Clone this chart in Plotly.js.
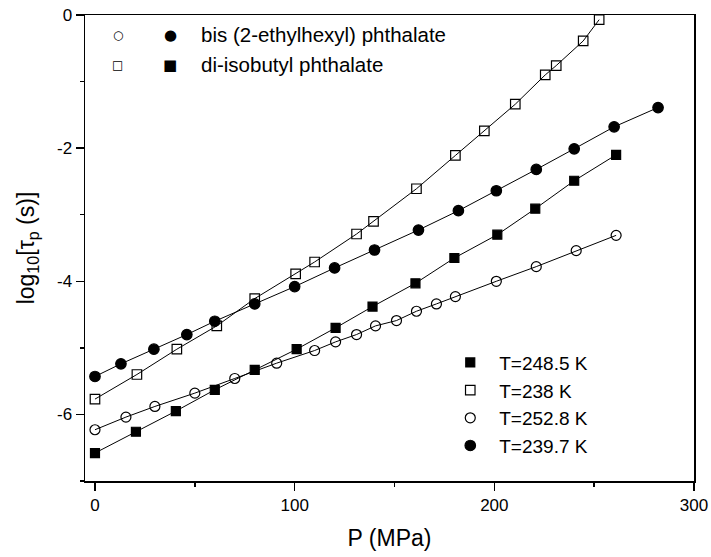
<!DOCTYPE html>
<html>
<head>
<meta charset="utf-8">
<script src="https://cdn.plot.ly/plotly-3.0.1.min.js"></script>
<style>html,body{margin:0;padding:0;background:#fff;}#chart{width:711px;height:557px;}</style>
</head>
<body>
<div id="chart"></div>
<script>
// bis (2-ethylhexyl) phthalate, T=239.7 K (filled circles)
const pFilledCircle = [0, 13, 29.5, 46, 60, 80, 100, 120, 140, 162, 182, 201, 221, 240, 260, 282];
const logFilledCircle = [-5.43, -5.24, -5.02, -4.80, -4.60, -4.34, -4.08, -3.80, -3.53, -3.23, -2.94, -2.64, -2.32, -2.01, -1.68, -1.39];

// bis (2-ethylhexyl) phthalate, T=252.8 K (open circles)
const pOpenCircle = [0, 15.5, 30, 50, 70, 91, 110, 120.5, 131, 140.5, 151, 161, 171, 180.5, 201, 221, 241, 261];
const logOpenCircle = [-6.23, -6.04, -5.88, -5.68, -5.46, -5.23, -5.04, -4.91, -4.80, -4.67, -4.59, -4.45, -4.34, -4.23, -4.00, -3.78, -3.54, -3.31];

// di-isobutyl phthalate, T=238 K (open squares)
const pOpenSquare = [0, 21, 41, 61, 80, 100.5, 110, 131, 139.5, 161, 180.5, 195, 210.5, 225.5, 231, 244.5, 252.5];
const logOpenSquare = [-5.77, -5.40, -5.02, -4.67, -4.26, -3.89, -3.71, -3.29, -3.10, -2.61, -2.11, -1.74, -1.34, -0.90, -0.76, -0.39, -0.07];

// di-isobutyl phthalate, T=248.5 K (filled squares)
const pFilledSquare = [0, 20.5, 40.5, 60, 80, 101, 120.5, 139, 160.5, 180, 201.5, 220.5, 240, 261];
const logFilledSquare = [-6.58, -6.26, -5.95, -5.63, -5.33, -5.02, -4.70, -4.38, -4.03, -3.65, -3.30, -2.91, -2.49, -2.10];

// Legend labels (order as in the reference legend)
const seriesNames = ['T=248.5 K', 'T=238 K', 'T=252.8 K', 'T=239.7 K'];
const compoundNames = ['bis (2-ethylhexyl) phthalate', 'di-isobutyl phthalate'];

// Tick labels
const yTickVals = [0, -2, -4, -6];
const yTickText = ['0', '-2', '-4', '-6'];
const xTickVals = [0, 100, 200, 300];
const xTickText = ['0', '100', '200', '300'];

const fontFam = 'Liberation Sans, Arial, Helvetica, sans-serif';

const series = [
  {x: pFilledSquare, y: logFilledSquare, symbol: 'square', size: 9, name: seriesNames[0]},
  {x: pOpenSquare, y: logOpenSquare, symbol: 'square-open', size: 9.5, name: seriesNames[1]},
  {x: pOpenCircle, y: logOpenCircle, symbol: 'circle-open', size: 10, name: seriesNames[2]},
  {x: pFilledCircle, y: logFilledCircle, symbol: 'circle', size: 10.5, name: seriesNames[3]}
];

const traces = [];
series.forEach(s => {
  traces.push({x: s.x, y: s.y, mode: 'lines', type: 'scatter', showlegend: false,
    line: {color: '#000', width: 1}, hoverinfo: 'skip'});
});
series.forEach(s => {
  traces.push({x: s.x, y: s.y, mode: 'markers', type: 'scatter', name: s.name,
    marker: {symbol: s.symbol, size: s.size, color: '#000', line: {color: '#000', width: 1.2}}});
});

const openSymFont = {family: 'DejaVu Sans', size: 12, color: '#000'};
const fillSymFont = {family: 'DejaVu Sans', size: 15, color: '#000'};
const txtFont = {family: fontFam, size: 20.5, color: '#000'};
const annotations = [
  {xref: 'paper', yref: 'paper', x: 0.0537, y: 0.958, text: '\u25CB', showarrow: false, font: openSymFont, xanchor: 'center', yanchor: 'middle'},
  {xref: 'paper', yref: 'paper', x: 0.1396, y: 0.958, text: '\u25CF', showarrow: false, font: fillSymFont, xanchor: 'center', yanchor: 'middle'},
  {xref: 'paper', yref: 'paper', x: 0.187, y: 0.958, text: compoundNames[0], showarrow: false, font: txtFont, xanchor: 'left', yanchor: 'middle'},
  {xref: 'paper', yref: 'paper', x: 0.0537, y: 0.8937, text: '\u25A1', showarrow: false, font: openSymFont, xanchor: 'center', yanchor: 'middle'},
  {xref: 'paper', yref: 'paper', x: 0.1396, y: 0.8937, text: '\u25A0', showarrow: false, font: fillSymFont, xanchor: 'center', yanchor: 'middle'},
  {xref: 'paper', yref: 'paper', x: 0.187, y: 0.8937, text: compoundNames[1], showarrow: false, font: txtFont, xanchor: 'left', yanchor: 'middle'}
];

const layout = {
  width: 711, height: 557,
  margin: {l: 85, r: 17, t: 15, b: 76},
  paper_bgcolor: '#fff', plot_bgcolor: '#fff',
  font: {family: fontFam, size: 17, color: '#000'},
  showlegend: true,
  legend: {x: 0.585, y: 0.295, xanchor: 'left', yanchor: 'top', bgcolor: 'rgba(0,0,0,0)',
    font: {family: fontFam, size: 19, color: '#000'}, itemwidth: 48, tracegroupgap: 0},
  xaxis: {
    range: [-5, 300], tickmode: 'array', tickvals: xTickVals, ticktext: xTickText,
    ticks: 'outside', ticklen: 8, tickwidth: 1.5, tickcolor: '#000',
    minor: {tickmode: 'linear', tick0: 0, dtick: 50, ticks: 'outside', ticklen: 4, tickwidth: 1.5, tickcolor: '#000'},
    showline: true, linecolor: '#000', linewidth: 1.5, mirror: true,
    showgrid: false, zeroline: false,
    tickfont: {family: fontFam, size: 17, color: '#000'},
    title: {text: 'P (MPa)', font: {family: fontFam, size: 23, color: '#000'}, standoff: 16}
  },
  yaxis: {
    range: [-7, 0], tickmode: 'array', tickvals: yTickVals, ticktext: yTickText,
    ticks: 'outside', ticklen: 8, tickwidth: 1.5, tickcolor: '#000',
    minor: {tickmode: 'linear', tick0: 0, dtick: 1, ticks: 'outside', ticklen: 4, tickwidth: 1.5, tickcolor: '#000'},
    showline: true, linecolor: '#000', linewidth: 1.5, mirror: true,
    showgrid: false, zeroline: false,
    tickfont: {family: fontFam, size: 17, color: '#000'},
    title: {text: 'log<sub>10</sub>[\u03C4<sub>p</sub> (s)]', font: {family: fontFam, size: 23, color: '#000'}, standoff: 16}
  },
  annotations: annotations
};

Plotly.newPlot('chart', traces, layout, {displayModeBar: false, staticPlot: true});
</script>
</body>
</html>
